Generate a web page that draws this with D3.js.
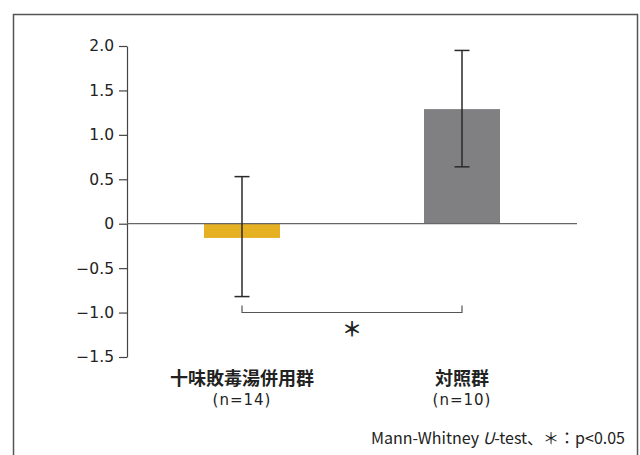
<!DOCTYPE html>
<html><head><meta charset="utf-8">
<script src="https://cdn.jsdelivr.net/npm/d3@7"></script>
<style>body{margin:0;background:#fff}svg{display:block}</style>
</head><body>
<script>
const groups = ["十味敗毒湯併用群", "対照群"];
const nLabels = ["(n=14)", "(n=10)"];
const means = [-0.16, 1.29];
const errLow = [-0.82, 0.64];
const errHigh = [0.53, 1.95];
const colors = ["#E5B022", "#808083"];
const yTicks = [2.0, 1.5, 1.0, 0.5, 0, -0.5, -1.0, -1.5];
const tickLabels = ["2.0", "1.5", "1.0", "0.5", "0", "−0.5", "−1.0", "−1.5"];
const note = "Mann-Whitney ";
const sigMark = "＊";

const W = 640, H = 455;
const svg = d3.select("body").append("svg").attr("width", W).attr("height", H);
const font = "'Noto Sans CJK JP', 'Noto Sans', sans-serif";
const numFont = "'DejaVu Sans', sans-serif";

// frame
svg.append("path").attr("d", `M13.5,460 V14.5 H637.5 V460`).attr("fill", "none")
  .attr("stroke", "#555").attr("stroke-width", 1.5);

const y = d3.scaleLinear().domain([-1.5, 2.0]).range([357, 46]);
const x = d3.scaleBand().domain(groups).range([138, 566]).paddingInner(0.6545).paddingOuter(0.3);

// y axis
const axis = d3.axisLeft(y).tickValues(yTicks).tickSize(8).tickSizeOuter(0)
  .tickFormat((d, i) => tickLabels[i]);
const gA = svg.append("g").attr("transform", "translate(127,0)").call(axis);
gA.select(".domain").attr("stroke", "#444").attr("stroke-width", 1.2);
gA.selectAll(".tick line").attr("stroke", "#444").attr("stroke-width", 1.2);
gA.selectAll(".tick text").attr("font-family", numFont).attr("font-size", 15.5)
  .attr("fill", "#222").attr("x", -13);

// bars
svg.selectAll("rect.bar").data(groups).enter().append("rect")
  .attr("x", d => x(d)).attr("width", x.bandwidth())
  .attr("y", (d, i) => y(Math.max(0, means[i])))
  .attr("height", (d, i) => Math.abs(y(means[i]) - y(0)))
  .attr("fill", (d, i) => colors[i]);

// zero line
svg.append("line").attr("x1", 127).attr("x2", 577).attr("y1", y(0)).attr("y2", y(0))
  .attr("stroke", "#666").attr("stroke-width", 1.3);

// error bars
const cx = d => x(d) + x.bandwidth() / 2;
groups.forEach((g, i) => {
  const c = cx(g);
  const e = svg.append("g").attr("stroke", "#2a2a2a").attr("stroke-width", 1.5);
  e.append("line").attr("x1", c).attr("x2", c).attr("y1", y(errHigh[i])).attr("y2", y(errLow[i]));
  [errHigh[i], errLow[i]].forEach(v => {
    e.append("line").attr("x1", c - 7.5).attr("x2", c + 7.5).attr("y1", y(v)).attr("y2", y(v));
  });
});

// significance bracket
const c0 = cx(groups[0]), c1 = cx(groups[1]);
const by = 312.5;
svg.append("path").attr("d", `M${c0},${by - 7} V${by} H${c1} V${by - 7}`)
  .attr("fill", "none").attr("stroke", "#555").attr("stroke-width", 1.2);
svg.append("text").attr("x", (c0 + c1) / 2).attr("y", 337).attr("text-anchor", "middle")
  .attr("font-family", font).attr("font-size", 20).attr("font-weight", "bold")
  .attr("fill", "#222").text(sigMark);

// category labels
groups.forEach((g, i) => {
  svg.append("text").attr("x", cx(g)).attr("y", 385).attr("text-anchor", "middle")
    .attr("font-family", font).attr("font-size", 18).attr("font-weight", "bold")
    .attr("fill", "#222").text(g);
  svg.append("text").attr("x", cx(g)).attr("y", 405).attr("text-anchor", "middle")
    .attr("font-family", numFont).attr("font-size", 15).attr("letter-spacing", 1)
    .attr("fill", "#222").text(nLabels[i]);
});

// footnote
const ft = svg.append("text").attr("x", 625).attr("y", 444).attr("text-anchor", "end")
  .attr("font-family", font).attr("font-size", 16).attr("fill", "#222");
ft.append("tspan").text(note);
ft.append("tspan").attr("font-style", "italic").text("U");
ft.append("tspan").text("-test、＊：p<0.05");
</script>
</body></html>
